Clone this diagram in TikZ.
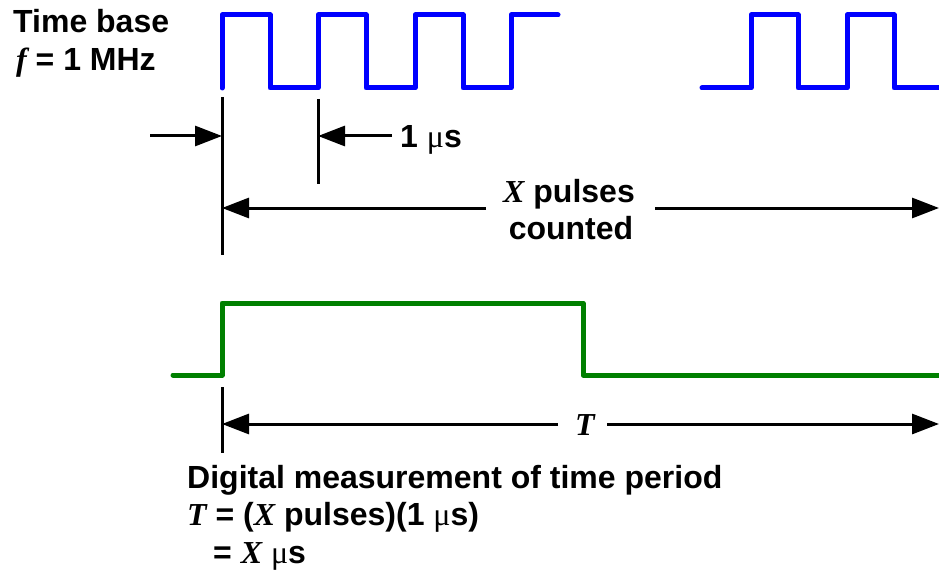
\documentclass[tikz,border=0pt]{standalone}
\usepackage{fontspec}
\setmainfont{Liberation Sans}
\newfontfamily\tms{Liberation Serif}
\usetikzlibrary{arrows.meta}
\definecolor{clkblue}{RGB}{0,0,255}
\definecolor{gatgreen}{RGB}{0,128,0}
\newcommand{\itv}[1]{{\tms\bfseries\itshape #1}}
\newcommand{\mug}{{\tms\mdseries μ}}
\begin{document}
\begin{tikzpicture}[x=1pt,y=-1pt,
  wave/.style={line width=5pt,line cap=round,line join=round},
  tick/.style={line width=3pt},
  dim/.style={line width=3pt,-{Triangle[length=27pt,width=20pt]}},
  lbl/.style={inner sep=0pt,font=\fontsize{32}{38}\selectfont\bfseries}]
\useasboundingbox (0,0) rectangle (939,572);
% clock waveform
\draw[wave,clkblue] (222,88) -- (222,15) -- (270,15) -- (270,88) -- (318,88) -- (318,15)
  -- (366,15) -- (366,88) -- (415,88) -- (415,15) -- (463,15) -- (463,88) -- (511,88)
  -- (511,15) -- (558,15);
\draw[wave,clkblue] (702,88) -- (751,88) -- (751,15) -- (798,15) -- (798,88) -- (847,88)
  -- (847,15) -- (894,15) -- (894,88) -- (945,88);
% gate waveform
\draw[wave,gatgreen] (173,375) -- (222,375) -- (222,303) -- (583,303) -- (583,375) -- (945,375);
% tick lines
\coordinate (t1a) at (222,97);
\coordinate (t1b) at (222,255);
\coordinate (t2a) at (318,99);
\coordinate (t2b) at (318,184);
\coordinate (t3a) at (222,387);
\coordinate (t3b) at (222,453);
\draw[tick] (t1a) -- (t1b);
\draw[tick] (t2a) -- (t2b);
\draw[tick] (t3a) -- (t3b);
% labels
\node[lbl,anchor=base west] (tb) at (13,33) {Time base};
\node[lbl,anchor=base west] (fq) at (16,71) {\itv{f} = 1 MHz};
\node[lbl,anchor=base west] (us) at (400,148) {1 \mug s};
\node[lbl,anchor=base] (xp) at (569,202) {\itv{X} pulses};
\node[lbl,anchor=base] (ct) at (571,239) {counted};
\node[lbl,anchor=base] (tl) at (585,435) {\itv{T}};
\node[lbl,anchor=base west] (d1) at (187,488) {Digital measurement of time period};
\node[lbl,anchor=base west] (d2) at (187,525) {\itv{T} = (\itv{X} pulses)(1 \mug s)};
\node[lbl,anchor=base west] (d3) at (213,563) {= \itv{X} \mug s};
% arrow ends
\coordinate (a1s) at (150,136);
\coordinate (a1e) at (t1a |- a1s);
\coordinate (a2s) at (392,136);
\coordinate (a2e) at (t2a |- a2s);
\coordinate (xls) at (486,208);
\coordinate (xle) at (t1a |- xls);
\coordinate (xrs) at (655,208);
\coordinate (xre) at (939,208);
\coordinate (tls) at (558,424);
\coordinate (tle) at (t3a |- tls);
\coordinate (trs) at (607,424);
\coordinate (tre) at (939,424);
\draw[dim] (a1s) -- (a1e);
\draw[dim] (a2s) -- (a2e);
\draw[dim] (xls) -- (xle);
\draw[dim] (xrs) -- (xre);
\draw[dim] (tls) -- (tle);
\draw[dim] (trs) -- (tre);
\end{tikzpicture}
\end{document}
